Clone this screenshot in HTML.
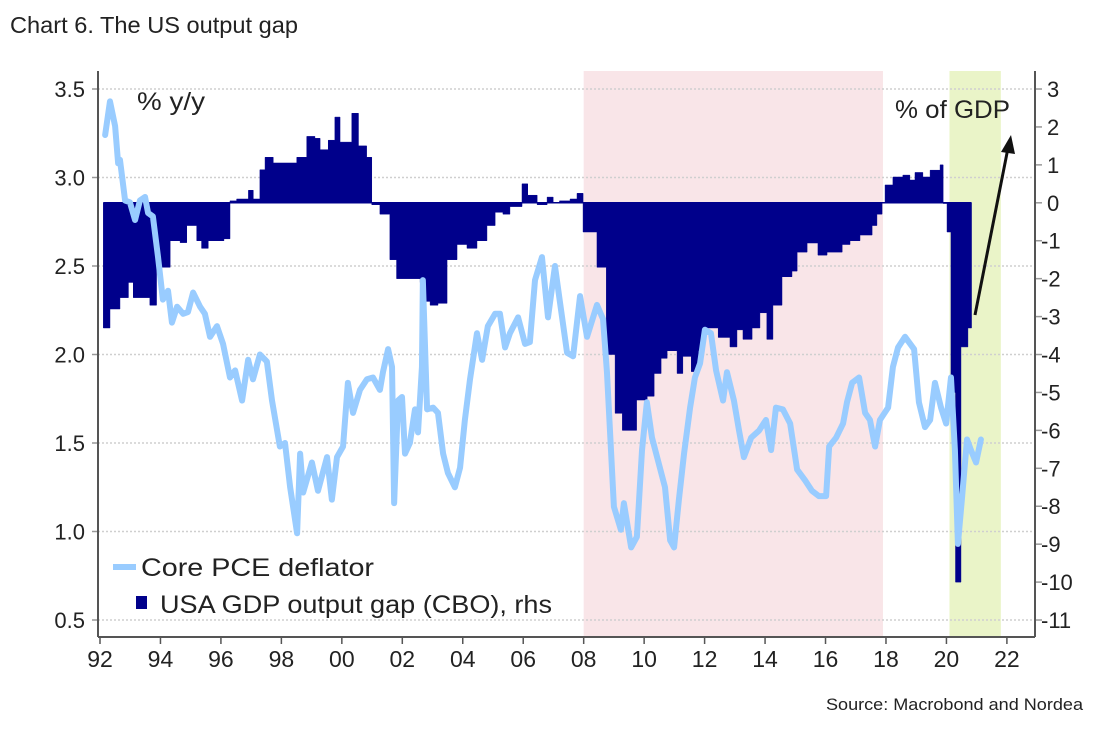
<!DOCTYPE html>
<html><head><meta charset="utf-8"><style>
html,body{margin:0;padding:0;background:#fff;width:1109px;height:730px;overflow:hidden}
svg{display:block;font-family:"Liberation Sans",sans-serif}
</style></head><body>
<svg id="chart" width="1109" height="730" viewBox="0 0 1109 730" xmlns="http://www.w3.org/2000/svg">
<text x="10" y="33" font-size="23" fill="#222" textLength="288" lengthAdjust="spacingAndGlyphs">Chart 6. The US output gap</text>
<g id="bg"></g><g id="grid"></g><g id="gap"></g><g id="pce"></g><g id="axes"></g>
<text x="137" y="110" font-size="25" fill="#222" textLength="68" lengthAdjust="spacingAndGlyphs">% y/y</text>
<text x="895" y="118" font-size="25" fill="#222" textLength="115" lengthAdjust="spacingAndGlyphs">% of GDP</text>
<g>
<line x1="975" y1="315" x2="1008" y2="148" stroke="#111" stroke-width="3"/>
<polygon points="1011,135 1001,152 1015,154" fill="#111"/>
</g>
<g>
<line x1="113" y1="567" x2="136" y2="567" stroke="#99ccff" stroke-width="6"/>
<text x="141" y="576" font-size="25" fill="#222" textLength="233" lengthAdjust="spacingAndGlyphs">Core PCE deflator</text>
<rect x="136" y="596" width="11" height="13" fill="#00008b"/>
<text x="160" y="613" font-size="25" fill="#222" textLength="392" lengthAdjust="spacingAndGlyphs">USA GDP output gap (CBO), rhs</text>
</g>
<text x="1083" y="710" font-size="17" fill="#222" text-anchor="end" textLength="257" lengthAdjust="spacingAndGlyphs">Source: Macrobond and Nordea</text>
</svg>
<script>
const xTickLabels=["92","94","96","98","00","02","04","06","08","10","12","14","16","18","20","22"];
const leftTicks=[0.5,1.0,1.5,2.0,2.5,3.0,3.5];
const rightTicks=[3,2,1,0,-1,-2,-3,-4,-5,-6,-7,-8,-9,-10,-11];
const shadeStart=[2008,2020.1];
const shadeEnd=[2017.9,2021.8];
const gapDates=[1992.11,1992.33,1992.66,1992.94,1993.10,1993.65,1993.87,1994.32,1994.65,1994.87,1995.2,1995.36,1995.58,1996.1,1996.30,1996.52,1996.91,1997.07,1997.29,1997.46,1997.73,1998.51,1998.84,1999.11,1999.28,1999.55,1999.77,1999.94,2000.33,2000.55,2000.82,2000.99,2001.26,2001.59,2001.81,2002.59,2002.68,2002.92,2003.18,2003.48,2003.81,2004.14,2004.47,2004.80,2005.07,2005.33,2005.56,2005.96,2006.15,2006.46,2006.79,2006.99,2007.2,2007.55,2007.78,2007.98,2008.44,2008.75,2009.04,2009.28,2009.75,2010.1,2010.33,2010.56,2010.76,2011.09,2011.28,2011.56,2011.8,2011.95,2012.45,2012.84,2013.07,2013.27,2013.57,2013.83,2014.06,2014.26,2014.56,2014.89,2015.06,2015.39,2015.75,2016.05,2016.55,2016.81,2017.14,2017.54,2017.70,2017.87,2017.97,2018.23,2018.56,2018.79,2018.96,2019.22,2019.46,2019.79,2019.89,2020.02,2020.15,2020.3,2020.48,2020.71];
const gapValues=[-3.3,-2.8,-2.5,-2.1,-2.5,-2.7,-1.7,-1.0,-1.05,-0.6,-1.0,-1.2,-1.0,-0.95,0.05,0.1,0.33,0.1,0.87,1.2,1.05,1.2,1.75,1.7,1.4,1.65,2.26,1.6,2.36,1.5,1.2,-0.05,-0.3,-1.5,-2.0,-2.1,-2.6,-2.7,-2.65,-1.5,-1.1,-1.2,-1.0,-0.6,-0.25,-0.3,-0.1,0.5,0.2,-0.05,0.15,0.0,0.05,0.1,0.25,-0.77,-1.7,-4.0,-5.55,-6.0,-5.2,-5.1,-4.5,-4.1,-3.9,-4.5,-4.05,-4.45,-3.9,-3.3,-3.55,-3.8,-3.35,-3.6,-3.3,-2.9,-3.6,-2.7,-1.95,-1.8,-1.3,-1.06,-1.38,-1.3,-1.1,-1.0,-0.85,-0.6,-0.3,0.0,0.47,0.68,0.73,0.6,0.8,0.68,0.86,1.0,-0.02,-0.77,-5.0,-10.0,-3.8,-3.3];
const gapEnd=2020.83;
const pceDates=[1992.17,1992.33,1992.50,1992.60,1992.66,1992.83,1992.99,1993.16,1993.32,1993.49,1993.59,1993.75,1993.92,1994.08,1994.25,1994.38,1994.55,1994.75,1994.91,1995.08,1995.31,1995.47,1995.64,1995.87,1996.07,1996.30,1996.47,1996.70,1996.90,1997.06,1997.29,1997.52,1997.69,1997.95,1998.12,1998.29,1998.52,1998.62,1998.72,1999.01,1999.21,1999.51,1999.67,1999.84,2000.04,2000.20,2000.37,2000.60,2000.83,2001.03,2001.26,2001.36,2001.53,2001.66,2001.73,2001.86,2001.99,2002.09,2002.25,2002.42,2002.52,2002.65,2002.68,2002.82,2003.02,2003.18,2003.35,2003.51,2003.74,2003.91,2004.07,2004.24,2004.47,2004.64,2004.83,2005.07,2005.23,2005.40,2005.56,2005.83,2006.06,2006.22,2006.39,2006.62,2006.82,2007.05,2007.22,2007.45,2007.65,2007.88,2008.11,2008.44,2008.64,2008.77,2009.00,2009.23,2009.33,2009.57,2009.76,2009.93,2010.09,2010.26,2010.46,2010.69,2010.86,2010.99,2011.15,2011.32,2011.52,2011.68,2011.85,2012.01,2012.21,2012.38,2012.61,2012.74,2012.97,2013.14,2013.30,2013.54,2013.80,2014.03,2014.20,2014.36,2014.59,2014.83,2015.06,2015.32,2015.55,2015.78,2016.02,2016.12,2016.35,2016.58,2016.71,2016.88,2017.11,2017.31,2017.47,2017.64,2017.80,2018.07,2018.23,2018.40,2018.63,2018.93,2019.09,2019.29,2019.46,2019.62,2019.82,2019.99,2020.15,2020.28,2020.38,2020.51,2020.68,2020.81,2020.98,2021.14];
const pceValues=[3.24,3.43,3.29,3.08,3.10,2.87,2.86,2.76,2.87,2.89,2.80,2.78,2.55,2.31,2.36,2.18,2.27,2.23,2.24,2.35,2.27,2.23,2.10,2.16,2.06,1.87,1.91,1.74,1.97,1.86,2.00,1.96,1.74,1.48,1.50,1.25,0.99,1.44,1.22,1.39,1.23,1.42,1.18,1.42,1.48,1.84,1.67,1.80,1.86,1.87,1.80,1.90,2.03,1.93,1.16,1.74,1.76,1.44,1.50,1.69,1.56,1.93,2.42,1.69,1.70,1.67,1.44,1.33,1.25,1.36,1.63,1.86,2.12,1.97,2.16,2.23,2.23,2.04,2.12,2.21,2.06,2.07,2.42,2.55,2.21,2.50,2.29,2.01,1.99,2.33,2.10,2.28,2.20,1.90,1.14,1.01,1.16,0.91,0.97,1.46,1.73,1.53,1.40,1.25,0.95,0.91,1.18,1.44,1.70,1.87,1.95,2.14,2.12,1.91,1.74,1.90,1.74,1.57,1.42,1.53,1.57,1.63,1.46,1.70,1.69,1.61,1.35,1.29,1.23,1.20,1.20,1.48,1.53,1.61,1.73,1.84,1.87,1.67,1.63,1.48,1.63,1.70,1.93,2.04,2.10,2.03,1.73,1.59,1.63,1.84,1.70,1.61,1.87,1.46,0.93,1.18,1.52,1.46,1.39,1.52];

const NS="http://www.w3.org/2000/svg";
const L=98,R=1035,T=71,B=637;
const xs=t=>100+(t-1992)*30.23;
const yl=v=>89+(3.5-v)*177;
const yr=g=>202.8-g*37.93;
function mk(tag,attrs,parent){const e=document.createElementNS(NS,tag);for(const k in attrs)e.setAttribute(k,attrs[k]);parent.appendChild(e);return e;}
const bg=document.getElementById('bg'),grid=document.getElementById('grid'),gapG=document.getElementById('gap'),pceG=document.getElementById('pce'),ax=document.getElementById('axes');
const shadeColors=["#f9e5e8","#eaf4c8"];
shadeStart.forEach((s,i)=>{
  const r=mk('rect',{x:xs(s),y:T,width:xs(shadeEnd[i])-xs(s),height:B-T,fill:shadeColors[i]},bg);
  
  
});
leftTicks.forEach(v=>{
  const g=mk('line',{x1:L,x2:R,y1:yl(v),y2:yl(v),stroke:"#cfcfcf","stroke-width":1.5,"stroke-dasharray":"2,2"},grid);
  
  
  const t=mk('text',{x:85,y:yl(v)+8,"font-size":22,"text-anchor":"end",fill:"#222"},ax);
  t.textContent=v.toFixed(1);
  
  
  mk('line',{x1:L-6,x2:L,y1:yl(v),y2:yl(v),stroke:"#999","stroke-width":1.5},ax);
});
rightTicks.forEach(v=>{
  mk('line',{x1:R,x2:R+7,y1:yr(v),y2:yr(v),stroke:"#999","stroke-width":1.5},ax);
  const t=mk('text',{x:v>=0?1047:1041,y:yr(v)+8,"font-size":22,fill:"#222"},ax);
  t.textContent=v<0?"-"+Math.abs(v):String(v);
  
  
});
xTickLabels.forEach((lab,i)=>{
  const x=xs(1992+2*i);
  mk('line',{x1:x,x2:x,y1:B,y2:B+7,stroke:"#555","stroke-width":1.5},ax);
  const t=mk('text',{x:x,y:B+30,"font-size":23,"text-anchor":"middle",fill:"#222"},ax);
  t.textContent=lab;
  
  
});
mk('line',{x1:L,x2:L,y1:T,y2:B,stroke:"#555","stroke-width":2},ax);
mk('line',{x1:R,x2:R,y1:T,y2:B,stroke:"#555","stroke-width":2},ax);
mk('line',{x1:L,x2:R,y1:B,y2:B,stroke:"#555","stroke-width":2},ax);
let d="M"+xs(gapDates[0])+","+yr(0);
gapDates.forEach((t,i)=>{const t2=i<gapDates.length-1?gapDates[i+1]:gapEnd;d+=" L"+xs(t)+","+yr(gapValues[i])+" L"+xs(t2)+","+yr(gapValues[i]);});
d+=" L"+xs(gapEnd)+","+yr(0)+" Z";
const area=mk('path',{d:d,fill:"#00008b",stroke:"#00008b","stroke-width":0.5},gapG);


const zl=mk('line',{x1:xs(gapDates[0]),x2:xs(gapEnd),y1:yr(0),y2:yr(0),stroke:"#00008b","stroke-width":1.5},gapG);


const pts=pceDates.map((t,i)=>xs(t)+","+yl(pceValues[i])).join(" ");
const pl=mk('polyline',{points:pts,fill:"none",stroke:"#99ccff","stroke-width":6,"stroke-linejoin":"round","stroke-linecap":"round"},pceG);


</script>
</body></html>
